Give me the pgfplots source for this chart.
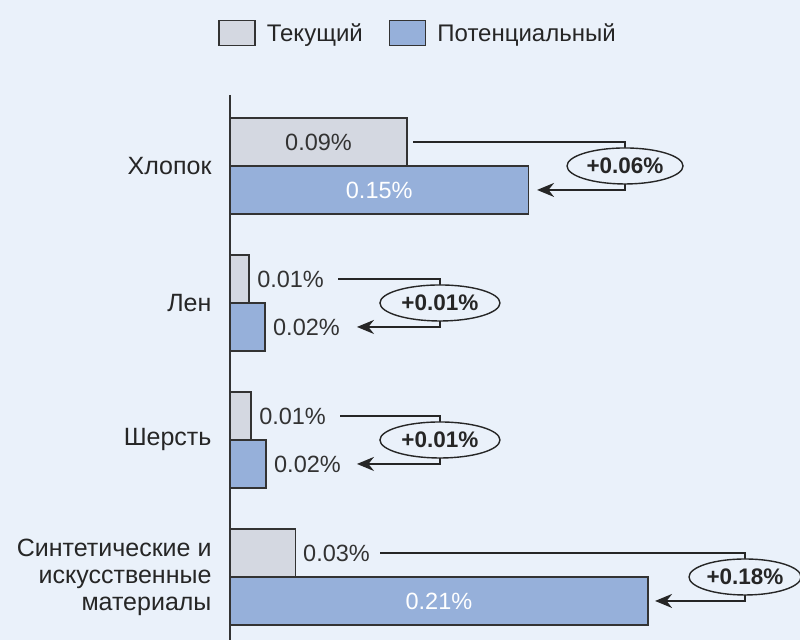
\documentclass[border=0pt]{standalone}
\usepackage{pgfplots}
\pgfplotsset{compat=1.18}
\usepackage{fontspec}
\setmainfont{Liberation Sans}
\usetikzlibrary{shapes.geometric,arrows.meta}
\definecolor{bg}{HTML}{EAF1FA}
\definecolor{cur}{HTML}{D4D8E1}
\definecolor{pot}{HTML}{96B0DA}
\definecolor{edge}{HTML}{333333}
\begin{document}
\begin{tikzpicture}[x=1pt,y=1pt]
\fill[bg] (-230,0) rectangle (570,640);
\begin{axis}[
  at={(0pt,0pt)}, anchor=south west,
  scale only axis, width=570pt, height=545pt,
  xmin=0, xmax=0.28643, ymin=-0.518, ymax=3.46,
  y dir=reverse,
  axis x line=none, axis y line=left,
  axis line style={-, draw=edge, line width=1.6pt},
  xtick=\empty,
  ytick={0,1,2,3},
  yticklabels={Хлопок,Лен,Шерсть,{Синтетические и\\искусственные\\материалы}},
  major tick length=0pt,
  yticklabel style={align=right, font=\fontsize{25}{27}\selectfont, text=black!85, xshift=-15pt},
  xbar, bar width=48pt, bar shift=0pt,
  clip=false,
  legend style={draw=none, fill=none, at={(-0.021,1.1138)}, anchor=west,
    legend columns=2, font=\fontsize{24}{26}\selectfont, inner sep=0pt, text=black!85,
    /tikz/every odd column/.append style={column sep=9pt},
    /tikz/every even column/.append style={column sep=24pt}},
  legend image code/.code={\draw[#1, line width=1.6pt] (0pt,-12.5pt) rectangle (36pt,12.5pt);},
]
\addplot[fill=cur, draw=edge, line width=1.5pt] coordinates {(0.089,-0.175) (0.0095,0.825) (0.0105,1.825) (0.033,2.825)};
\addlegendentry{Текущий}
\addplot[fill=pot, draw=edge, line width=1.5pt] coordinates {(0.150,0.175) (0.0175,1.175) (0.018,2.175) (0.210,3.175)};
\addlegendentry{Потенциальный}

\begin{scope}[font=\fontsize{23.5}{26}\selectfont]
\node[text=black!80] at (axis cs:0.0445,-0.175) {0.09\%};
\node[text=white] at (axis cs:0.075,0.175) {0.15\%};
\node[text=white] at (axis cs:0.105,3.175) {0.21\%};
\node[anchor=west, inner sep=0pt, text=black!80] at (axis cs:0.0136,0.825) {0.01\%};
\node[anchor=west, inner sep=0pt, text=black!80] at (axis cs:0.0216,1.175) {0.02\%};
\node[anchor=west, inner sep=0pt, text=black!80] at (axis cs:0.0146,1.825) {0.01\%};
\node[anchor=west, inner sep=0pt, text=black!80] at (axis cs:0.0221,2.175) {0.02\%};
\node[anchor=west, inner sep=0pt, text=black!80] at (axis cs:0.0367,2.825) {0.03\%};
\end{scope}

\begin{scope}[line width=1.8pt, draw=black!85]
\draw (axis cs:0.0920,-0.175) -| (axis cs:0.1985,0);
\draw[-{Stealth[length=17pt,width=14pt]}] (axis cs:0.1985,0.05) |- (axis cs:0.1543,0.175);
\draw (axis cs:0.0543,0.825) -| (axis cs:0.1055,1);
\draw[-{Stealth[length=17pt,width=14pt]}] (axis cs:0.1055,1) |- (axis cs:0.0638,1.175);
\draw (axis cs:0.0553,1.825) -| (axis cs:0.1055,2);
\draw[-{Stealth[length=17pt,width=14pt]}] (axis cs:0.1055,2) |- (axis cs:0.0638,2.175);
\draw (axis cs:0.0754,2.825) -| (axis cs:0.2588,3);
\draw[-{Stealth[length=17pt,width=14pt]}] (axis cs:0.2588,3) |- (axis cs:0.2136,3.175);
\end{scope}
\begin{scope}[every node/.style={ellipse, draw=black!85, line width=1.4pt, fill=bg, inner sep=0pt, minimum height=36pt, font=\fontsize{22.5}{25}\selectfont\bfseries, text=black!85}]
\node[minimum width=116pt] at (axis cs:0.1985,0) {+0.06\%};
\node[minimum width=120pt] at (axis cs:0.1055,1) {+0.01\%};
\node[minimum width=120pt] at (axis cs:0.1055,2) {+0.01\%};
\node[minimum width=112pt] at (axis cs:0.2588,3) {+0.18\%};
\end{scope}
\end{axis}
\pgfresetboundingbox
\useasboundingbox (-230,0) rectangle (570,640);
\end{tikzpicture}
\end{document}
